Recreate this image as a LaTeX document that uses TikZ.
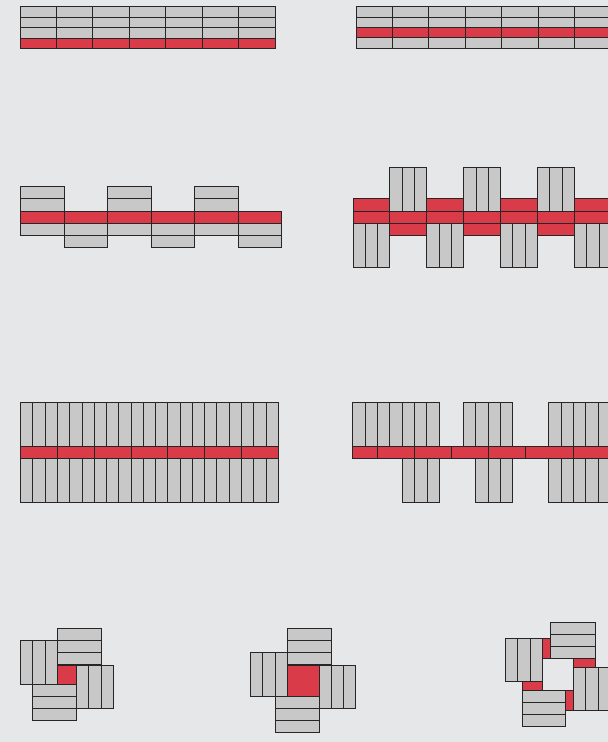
\documentclass[tikz,border=0pt]{standalone}
\usepackage{tikz}
\definecolor{bggray}{HTML}{E6E7E9}
\definecolor{brickgray}{HTML}{C8C8C8}
\definecolor{brickred}{HTML}{D93B48}

\begin{document}
\begin{tikzpicture}[
    x=1pt, y=-1pt,
    Gbrick/.style={fill=brickgray, draw=black!85, line width=1pt},
    Rbrick/.style={fill=brickred, draw=black!85, line width=1pt},
]
\fill[bggray] (0,0) rectangle (608,742);
\useasboundingbox (0,0) rectangle (608,742);
\clip (0,0) rectangle (608,742);

\foreach \i in {0,...,6} {
  \foreach \r in {0,1,2}
    \fill[Gbrick] (20+\i*36.43, 6.5+\r*10.5) rectangle ++(36.43, 10.5);
  \fill[Rbrick] (20+\i*36.43, 38) rectangle ++(36.43, 10.5);
}

\foreach \i in {0,...,7} {
  \fill[Gbrick] (356+\i*36.4, 6.7) rectangle ++(36.4, 10.4);
  \fill[Gbrick] (356+\i*36.4, 17.1) rectangle ++(36.4, 10.4);
  \fill[Rbrick] (356+\i*36.4, 27.5) rectangle ++(36.4, 10.4);
  \fill[Gbrick] (356+\i*36.4, 37.9) rectangle ++(36.4, 10.4);
}

\foreach \i in {0,2,4} {
  \fill[Gbrick] (20.7+\i*43.5, 186.7) rectangle ++(43.5, 12.25);
  \fill[Gbrick] (20.7+\i*43.5, 198.95) rectangle ++(43.5, 12.25);
  \fill[Gbrick] (20.7+\i*43.5+43.5, 235.7) rectangle ++(43.5, 12.25);
}
\foreach \i in {0,...,5} {
  \fill[Rbrick] (20.7+\i*43.5, 211.2) rectangle ++(43.5, 12.25);
  \fill[Gbrick] (20.7+\i*43.5, 223.45) rectangle ++(43.5, 12.25);
}

\foreach \i in {0,2,4,6} {
  \fill[Rbrick] (353+\i*36.9, 198.7) rectangle ++(36.9, 12.3);
  \foreach \k in {0,1,2}
    \fill[Gbrick] (353+\i*36.9+\k*12.3, 223.3) rectangle ++(12.3, 43.7);
}
\foreach \i in {1,3,5} {
  \foreach \k in {0,1,2}
    \fill[Gbrick] (353+\i*36.9+\k*12.3, 167.3) rectangle ++(12.3, 43.7);
  \fill[Rbrick] (353+\i*36.9, 223.3) rectangle ++(36.9, 12.4);
}
\foreach \i in {0,...,6}
  \fill[Rbrick] (353+\i*36.9, 211) rectangle ++(36.9, 12.3);

\foreach \k in {0,...,20} {
  \fill[Gbrick] (20.7+\k*12.267, 402.7) rectangle ++(12.267, 44);
  \fill[Gbrick] (20.7+\k*12.267, 458.7) rectangle ++(12.267, 44);
}
\foreach \i in {0,...,6}
  \fill[Rbrick] (20.7+\i*36.8, 446.7) rectangle ++(36.8, 12);

\foreach \x/\n in {352.7/6, 463.3/3, 548.7/5}
  \foreach \k in {0,...,\n}
    \fill[Gbrick] (\x+\k*12.36, 402.5) rectangle ++(12.36, 44.2);
\foreach \x/\n in {402.3/2, 475.7/2, 548.7/5}
  \foreach \k in {0,...,\n}
    \fill[Gbrick] (\x+\k*12.36, 458.5) rectangle ++(12.36, 44);
\foreach \a/\b in {352.7/377.7, 377.7/414.3, 414.3/451, 451/488.3, 488.3/525, 525/573.7, 573.7/622}
  \fill[Rbrick] (\a, 446.5) rectangle (\b, 458.5);

\foreach \r in {0,1,2}
  \fill[Gbrick] (57.3, 628.3+\r*12.23) rectangle ++(44, 12.23);
\foreach \k in {0,1,2}
  \fill[Gbrick] (20.7+\k*12.2, 640.7) rectangle ++(12.2, 43.6);
\fill[Rbrick] (57.3, 665) rectangle (76.3, 684.3);
\foreach \k in {0,1,2}
  \fill[Gbrick] (76.3+\k*12.47, 665) rectangle ++(12.47, 43.7);
\foreach \r in {0,1,2}
  \fill[Gbrick] (32.7, 684.3+\r*12.13) rectangle ++(43.6, 12.13);

\foreach \r in {0,1,2}
  \fill[Gbrick] (287.3, 628.3+\r*12.23) rectangle ++(44, 12.23);
\foreach \k in {0,1,2}
  \fill[Gbrick] (250.7+\k*12.2, 652.7) rectangle ++(12.2, 43.3);
\fill[Rbrick] (287.3, 665) rectangle (319, 696);
\foreach \k in {0,1,2}
  \fill[Gbrick] (319+\k*12.33, 665) rectangle ++(12.33, 43.3);
\foreach \r in {0,1,2}
  \fill[Gbrick] (275.3, 696+\r*12.33) rectangle ++(43.7, 12.33);

\foreach \r in {0,1,2}
  \fill[Gbrick] (550.3, 622+\r*12.23) rectangle ++(44.7, 12.23);
\fill[Rbrick] (542.7, 638) rectangle (550.3, 658.7);
\foreach \k in {0,1,2}
  \fill[Gbrick] (505.3+\k*12.47, 638) rectangle ++(12.47, 43.3);
\fill[Rbrick] (522, 681.3) rectangle (542.7, 690);
\foreach \r in {0,1,2}
  \fill[Gbrick] (522, 690+\r*12.33) rectangle ++(43.3, 12.33);
\fill[Rbrick] (565.3, 690) rectangle (573.3, 710.7);
\foreach \k in {0,1,2}
  \fill[Gbrick] (573.3+\k*12.5, 667.3) rectangle ++(12.5, 43.4);
\fill[Rbrick] (573.3, 658.7) rectangle (595, 667.3);
\end{tikzpicture}
\end{document}
